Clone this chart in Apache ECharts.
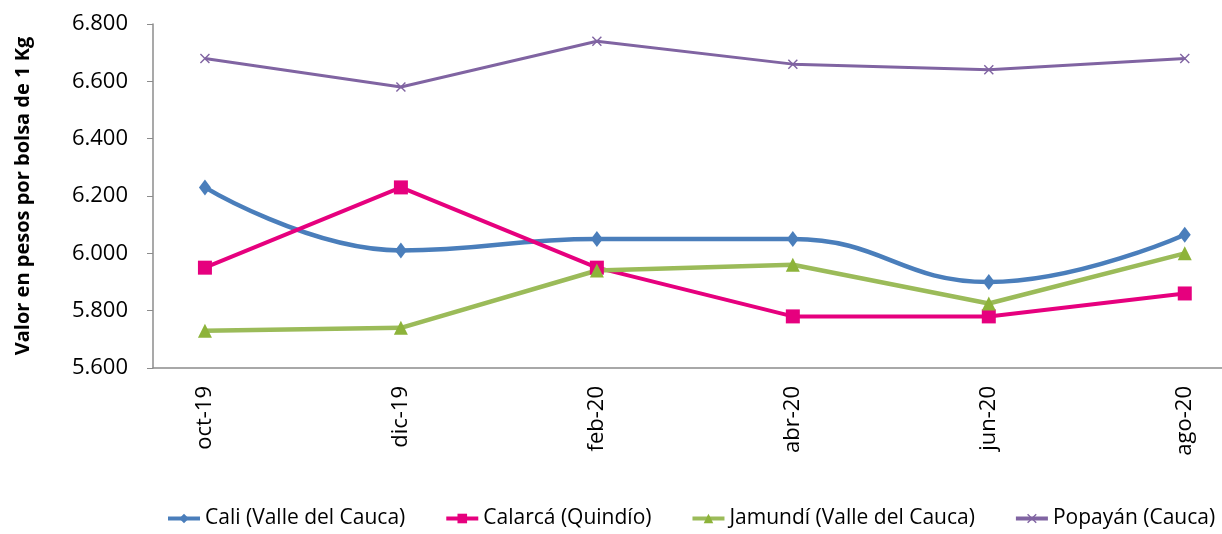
<!DOCTYPE html>
<html>
<head>
<meta charset="utf-8">
<script src="https://cdn.jsdelivr.net/npm/echarts@6/dist/echarts.min.js"></script>
<style>
html,body{margin:0;padding:0;background:#fff;}
#chart{width:1222px;height:534px;}
</style>
</head>
<body>
<div id="chart"></div>
<script>
var meses=['oct-19','dic-19','feb-20','abr-20','jun-20','ago-20'];
var cali=[6230,6010,6050,6050,5900,6065];
var calarca=[5950,6230,5950,5780,5780,5860];
var jamundi=[5730,5740,5940,5960,5825,6000];
var popayan=[6680,6580,6740,6660,6640,6680];

function pares(arr){
    var out=[];
    for(var i=0;i<arr.length;i++){out.push([i,arr[i]]);}
    return out;
}
var cruz='path://M0,1L1,0L5,4L9,0L10,1L6,5L10,9L9,10L5,6L1,10L0,9L4,5Z';
var fuente='Open Sans';

var chart=echarts.init(document.getElementById('chart'));
var option={
    animation:false,
    textStyle:{fontFamily:fuente},
    grid:{left:153,right:0,top:24,bottom:166},
    legend:{
        top:508,
        left:166,
        width:1200,
        padding:0,
        itemWidth:32,
        itemHeight:12,
        itemGap:39,
        lineStyle:{width:4},
        textStyle:{fontSize:21,color:'#000',fontFamily:fuente},
        data:['Cali (Valle del Cauca)','Calarcá (Quindío)','Jamundí (Valle del Cauca)','Popayán (Cauca)']
    },
    xAxis:{
        type:'value',
        min:-0.265,
        max:5.19,
        splitLine:{show:false},
        axisTick:{show:false},
        axisLine:{onZero:false,lineStyle:{color:'#8c8c8c',width:1.5}},
        axisLabel:{
            customValues:[0,1,2,3,4,5],
            rotate:90,
            margin:18,
            fontSize:22,
            color:'#000',
            formatter:function(v){return meses[Math.round(v)];}
        }
    },
    yAxis:{
        type:'value',
        min:5600,
        max:6800,
        interval:200,
        name:'Valor en pesos por bolsa de 1 Kg',
        nameLocation:'middle',
        nameGap:120,
        nameTextStyle:{fontSize:20,fontWeight:'bold',color:'#000',fontFamily:fuente},
        splitLine:{show:false},
        axisLine:{show:true,onZero:false,lineStyle:{color:'#8c8c8c',width:1.5}},
        axisTick:{show:true,length:6,lineStyle:{color:'#8c8c8c'}},
        axisLabel:{
            margin:25,
            fontSize:22,
            color:'#000',
            formatter:function(v){return (v/1000).toFixed(3);}
        }
    },
    series:[{
        name:'Cali (Valle del Cauca)',
        type:'line',
        smooth:0.45,
        data:pares(cali),
        symbol:'diamond',
        symbolSize:[12,16],
        lineStyle:{width:4.5,color:'#4a7ebb'},
        itemStyle:{color:'#4a7ebb'}
    },{
        name:'Calarcá (Quindío)',
        type:'line',
        data:pares(calarca),
        symbol:'rect',
        symbolSize:14,
        lineStyle:{width:4,color:'#e6007e'},
        itemStyle:{color:'#e6007e'}
    },{
        name:'Jamundí (Valle del Cauca)',
        type:'line',
        data:pares(jamundi),
        symbol:'triangle',
        symbolSize:14,
        lineStyle:{width:4.5,color:'#9bbb59'},
        itemStyle:{color:'#8db33a'}
    },{
        name:'Popayán (Cauca)',
        type:'line',
        data:pares(popayan),
        symbol:cruz,
        symbolSize:10,
        lineStyle:{width:3,color:'#8064a2'},
        itemStyle:{color:'#8064a2'}
    }]
};
chart.setOption(option);
</script>
</body>
</html>
